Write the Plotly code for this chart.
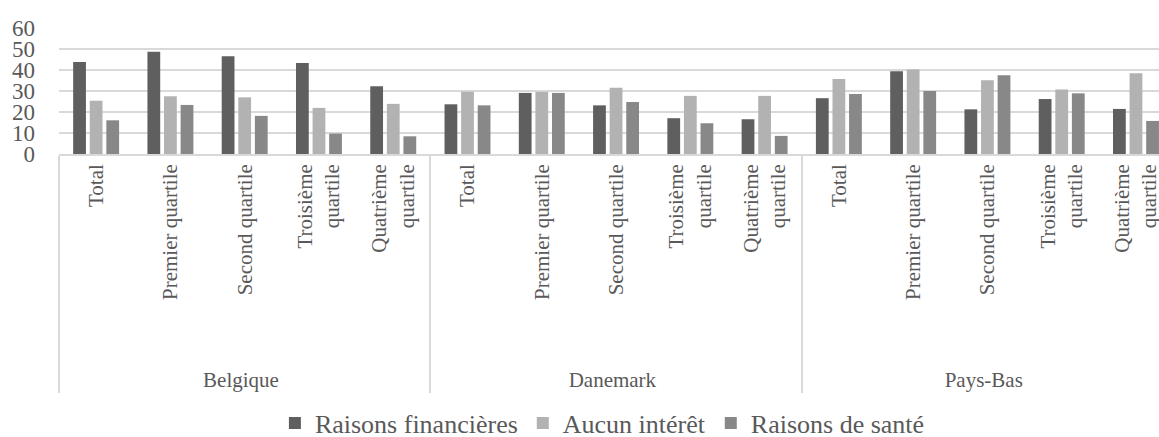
import plotly.graph_objects as go

countries = ["Belgique"] * 5 + ["Danemark"] * 5 + ["Pays-Bas"] * 5
# padding with non-breaking spaces keeps the country row lower, as in the source
PAD = "\u00a0" * 9
quartiles = [
    PAD + "Total",
    PAD + "Premier quartile",
    PAD + "Second quartile",
    "Troisième<br>quartile",
    "Quatrième<br>quartile",
] * 3

financieres = [43.7, 48.5, 46.4, 43.2, 32.2, 23.6, 29.0, 23.1, 17.0, 16.5, 26.5, 39.3, 21.2, 26.1, 21.4]
aucun_interet = [25.3, 27.4, 26.9, 21.9, 23.8, 29.6, 29.5, 31.4, 27.6, 27.6, 35.6, 40.1, 35.0, 30.6, 38.3]
sante = [16.0, 23.3, 18.1, 9.7, 8.4, 23.1, 29.0, 24.7, 14.6, 8.6, 28.5, 29.9, 37.4, 28.8, 15.7]

series = [
    ("Raisons financières", financieres, "#5f5f5f"),
    ("Aucun intérêt", aucun_interet, "#b2b2b2"),
    ("Raisons de santé", sante, "#888888"),
]

FONT = "Liberation Serif, Times New Roman, serif"
GRID = "#d9d9d9"

fig = go.Figure()
for name, values, color in series:
    fig.add_trace(
        go.Bar(
            x=[countries, quartiles],
            y=values,
            name=name,
            marker=dict(color=color, line=dict(width=0)),
        )
    )

fig.update_layout(
    width=1159,
    height=437,
    font=dict(family=FONT, size=22, color="#595959"),
    plot_bgcolor="white",
    paper_bgcolor="white",
    margin=dict(l=59, r=0, t=27, b=283),
    barmode="group",
    bargap=0.33,
    bargroupgap=0.23,
    showlegend=True,
    legend=dict(
        orientation="h",
        xanchor="center",
        x=0.494,
        yref="container",
        yanchor="middle",
        y=0.032,
        font=dict(family=FONT, size=26, color="#595959"),
        itemwidth=30,
    ),
    xaxis=dict(
        type="multicategory",
        # the source crops the last group at the right edge
        range=[-0.5, 14.31],
        automargin=False,
        tickangle=-90,
        tickfont=dict(family=FONT, size=21, color="#595959"),
        showline=True,
        linecolor=GRID,
        linewidth=1.5,
        showdividers=True,
        dividercolor=GRID,
        dividerwidth=1.5,
        ticks="",
        showgrid=False,
    ),
    yaxis=dict(
        range=[0, 60.3],
        dtick=10,
        automargin=False,
        showgrid=True,
        gridcolor=GRID,
        gridwidth=1.5,
        zeroline=False,
        tickfont=dict(family=FONT, size=23, color="#595959"),
        ticks="",
        ticklabelstandoff=23,
    ),
)

# drop the default page margin so the figure fills the window exactly
fig.write_html(
    "out.html",
    config={"displayModeBar": False},
    post_script="document.body.style.margin = '0';",
)
